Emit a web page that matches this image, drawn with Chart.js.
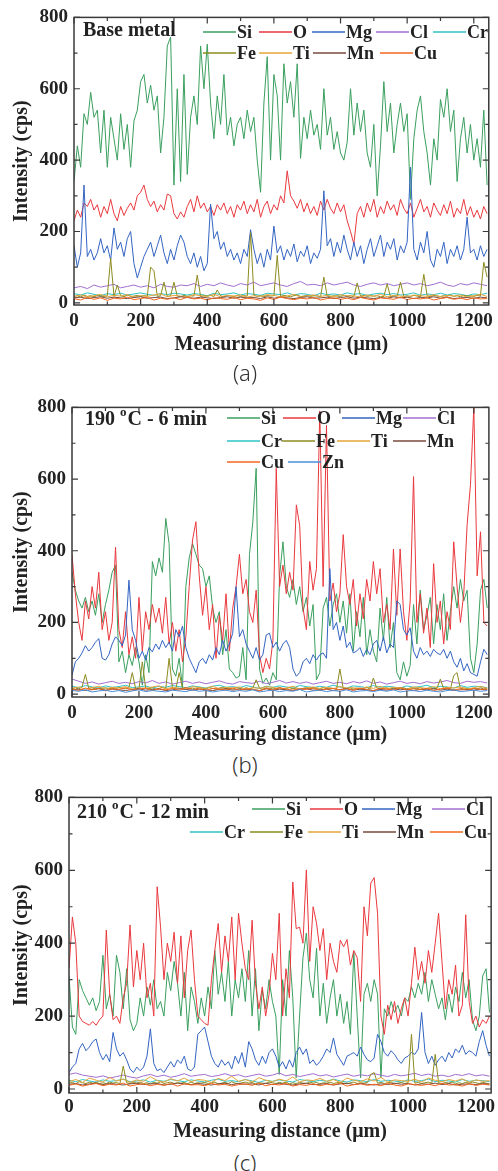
<!DOCTYPE html>
<html>
<head>
<meta charset="utf-8">
<script src="https://cdn.jsdelivr.net/npm/chart.js@4.4.0/dist/chart.umd.min.js"></script>
<style>
  body { margin: 0; background: #fff; }
  #wrap { position: relative; width: 498px; height: 1171px; overflow: hidden; }
  canvas { position: absolute; left: 0; }
  .cap { position: absolute; left: 0; width: 490px; text-align: center; font: 300 22px 'Noto Sans', 'DejaVu Sans', sans-serif; color: #333; line-height: 26px; }
</style>
</head>
<body>
<div id="wrap">
  <canvas id="ca" width="498" height="360" style="top:0"></canvas>
  <canvas id="cb" width="498" height="358" style="top:390px"></canvas>
  <canvas id="cc" width="498" height="365" style="top:780px"></canvas>
  <div class="cap" style="top:359px">(a)</div>
  <div class="cap" style="top:751px">(b)</div>
  <div class="cap" style="top:1149px">(c)</div>
</div>
<script>
// sampling step along the line scan (μm)
const stepMain = 10;
const stepMinor = 20;

// tick labels
const xTicks = [0, 200, 400, 600, 800, 1000, 1200];
const yTicks = [0, 200, 400, 600, 800];

// ---------- (a) Base metal ----------
const aSi = [340,440,380,530,500,590,520,540,420,540,
  380,520,460,400,530,430,500,380,510,540,
  620,640,560,610,540,580,420,520,720,745,
  330,600,340,640,360,520,580,500,720,600,
  725,560,460,580,500,640,470,520,440,500,
  520,460,540,480,520,400,310,560,690,400,
  640,580,400,670,560,620,520,670,405,520,
  460,540,470,500,430,600,470,520,430,480,
  420,400,450,600,470,560,480,540,420,380,
  500,300,440,620,480,560,420,500,560,480,
  530,290,460,540,580,480,420,330,460,400,
  570,520,600,480,540,340,460,520,420,500,
  400,460,380,540,330];
const aO = [230,260,240,280,270,290,260,275,240,270,
  250,290,250,230,270,245,265,280,260,300,
  310,330,290,270,285,255,275,260,305,300,
  250,235,255,240,270,290,255,300,265,280,
  255,270,245,275,260,280,250,270,240,275,
  260,285,250,275,255,290,240,270,285,250,
  275,260,300,280,370,300,285,265,290,255,
  280,250,270,245,285,260,290,265,250,280,
  255,275,230,200,165,250,270,240,280,255,
  290,240,270,250,285,260,275,245,290,265,
  250,280,240,265,290,255,270,240,280,260,
  245,275,250,285,240,265,250,290,245,270,
  240,260,235,270,250];
const aMg = [160,100,140,330,130,150,120,140,180,140,
  160,120,210,150,170,130,180,200,110,70,
  100,130,150,170,130,160,190,140,110,150,
  120,160,190,170,130,110,140,100,130,90,
  110,277,180,200,150,170,130,150,120,140,
  110,150,130,205,150,110,140,100,150,120,
  215,140,160,120,150,130,165,115,145,130,
  160,110,140,125,150,314,160,180,130,170,
  140,190,150,120,170,130,160,110,150,180,
  130,160,190,130,170,150,180,120,160,140,
  170,380,150,120,170,140,200,120,100,150,
  130,170,110,150,130,160,120,150,240,140,
  150,120,160,130,150];
const aFe = [18,20,16,22,18,20,17,21,19,18,
  20,125,18,50,20,17,22,18,19,21,
  18,20,19,100,90,18,20,58,18,20,
  58,19,17,21,18,20,19,78,18,20,
  19,21,18,36,20,17,21,19,18,20,
  18,20,19,197,22,18,20,17,21,19,
  20,133,18,21,19,17,20,22,18,19,
  21,18,20,19,17,72,19,18,20,19,
  18,21,19,20,17,56,19,21,18,20,
  19,20,17,18,53,17,20,19,58,18,
  20,18,21,19,17,80,20,17,21,19,
  18,20,19,22,18,20,17,21,19,20,
  18,21,19,114,72];
const aCl = [42,46,40,50,44,48,52,42,46,50, 44,48,42,52,46,44,50,48,54,46,
  52,48,56,50,46,54,50,58,48,52, 56,50,46,54,60,50,52,48,56,50,
  54,58,50,46,52,56,50,54,48,52, 56,50,54,48,52,58,50,46,54,50, 56,52,48];
const aCr = [26,22,28,24,20,26,23,27,22,25, 28,24,21,26,23,27,25,22,26,24,
  20,27,23,25,28,22,26,24,21,27, 25,23,28,22,26,24,20,27,23,25,
  22,28,24,26,21,25,27,23,26,22, 24,28,21,25,23,27,22,26,24,20, 25,23,27];
const aTi = [18,22,16,20,24,17,21,19,23,16, 20,18,22,25,17,21,19,16,23,20,
  18,24,17,21,19,22,16,20,18,23, 21,17,19,24,16,20,22,18,21,17,
  23,19,20,16,22,18,24,17,21,19, 16,22,20,18,23,17,21,19,22,16, 20,24,18];
const aMn = [14,16,12,15,17,13,16,14,12,15, 17,13,15,16,12,14,17,15,13,16,
  14,12,15,17,13,16,14,15,12,17, 13,16,14,12,15,17,13,14,16,12,
  15,17,13,16,14,12,15,13,17,14, 16,12,15,14,17,13,16,12,14,15, 13,16,14];
const aCu = [12,8,15,10,14,7,13,11,16,9, 12,15,8,13,10,14,9,16,11,13,
  8,14,12,10,15,9,13,11,7,14, 10,16,12,9,13,11,15,8,12,14,
  10,13,9,15,11,8,14,12,10,16, 9,13,11,14,8,12,15,10,13,9, 14,11,12];

// ---------- (b) 190 °C - 6 min ----------
const bSi = [340,290,260,240,270,230,260,220,280,200,
  250,290,340,360,90,120,60,110,80,130,
  90,25,110,60,370,330,380,340,490,420,
  70,50,100,20,300,380,420,390,360,350,
  300,330,240,200,230,110,180,70,60,45,
  50,130,40,390,480,630,70,30,45,25,
  60,40,330,425,300,270,320,250,300,230,
  270,190,250,40,60,240,270,190,250,280,
  200,260,170,280,120,230,160,270,110,180,
  120,90,240,150,270,130,200,60,40,90,
  50,80,250,140,290,180,220,270,140,250,
  180,280,150,230,300,240,320,260,290,100,
  60,140,290,320,240];
const bO = [390,280,200,150,260,210,300,240,340,180,
  230,150,200,410,180,130,230,110,160,100,
  270,120,230,180,250,200,240,170,270,140,
  200,120,180,90,160,300,430,481,330,220,
  300,180,250,100,220,150,280,120,240,300,
  390,280,320,230,200,290,110,60,100,70,
  150,630,300,360,280,340,290,528,470,240,
  180,370,290,350,790,300,750,260,310,230,
  280,445,300,250,320,190,280,210,320,260,
  370,280,350,200,250,180,405,220,405,230,
  150,260,607,200,280,170,240,130,364,200,
  260,140,230,180,425,300,200,280,473,585,
  800,330,453,200,190];
const bMg = [53,90,100,115,135,120,130,145,155,100,
  95,110,140,160,150,135,165,318,180,150,
  100,120,95,130,118,140,125,150,130,145,
  120,180,160,190,130,100,80,60,90,100,
  85,110,95,130,110,150,120,140,170,300,
  160,180,140,120,100,130,95,110,165,170,
  130,145,120,140,150,130,70,50,60,90,
  100,85,110,95,110,115,100,350,180,200,
  150,190,130,145,115,120,130,105,125,110,
  140,150,120,160,115,140,130,260,250,180,
  165,185,120,100,130,110,120,105,125,115,
  110,125,100,120,90,75,100,65,85,60,
  55,50,90,125,110];
const bFe = [15,18,14,20,55,16,18,14,17,15,
  18,15,17,14,19,16,15,18,60,16,
  14,90,17,15,18,14,16,19,15,100,
  17,14,60,16,18,15,17,14,19,16,
  15,18,16,14,17,19,15,16,14,18,
  16,14,18,15,17,40,16,14,18,15,
  17,15,19,14,16,18,15,17,14,16,
  18,15,17,16,14,19,15,17,16,14,
  70,16,15,18,14,17,16,15,19,14,
  45,17,15,16,18,14,17,15,16,18,
  14,17,16,15,18,14,16,17,15,16,
  42,15,17,14,52,60,15,17,16,14,
  16,15,18,14,17];
const bCl = [42,36,30,34,28,32,36,30,33,29, 35,31,38,30,34,28,32,36,30,34,
  29,33,37,31,28,35,32,30,36,29, 33,38,31,35,30,34,28,32,36,30,
  33,29,35,31,37,30,34,28,32,36, 30,33,29,35,31,34,38,32,30,36, 33,35,31];
const bCr = [22,18,24,20,17,23,19,21,25,18, 20,23,17,22,19,24,21,18,23,20,
  17,22,25,19,21,18,24,20,16,22, 19,23,20,17,24,21,18,22,19,25,
  20,17,23,21,18,24,19,22,20,17, 23,19,21,25,18,22,20,17,24,19, 22,21,18];
const bTi = [16,20,14,18,22,15,19,17,21,14, 18,16,20,23,15,19,17,14,21,18,
  16,22,15,19,17,20,14,18,16,21, 19,15,17,22,14,18,20,16,19,15,
  21,17,18,14,20,16,22,15,19,17, 14,20,18,16,21,15,19,17,20,14, 18,22,16];
const bMn = [12,14,10,13,15,11,14,12,10,13, 15,11,13,14,10,12,15,13,11,14,
  12,10,13,15,11,14,12,13,10,15, 11,14,12,10,13,15,11,12,14,10,
  13,15,11,14,12,10,13,11,15,12, 14,10,13,12,15,11,14,10,12,13, 11,14,12];
const bCu = [14,10,17,12,16,9,15,13,18,11, 14,17,10,15,12,16,11,18,13,15,
  10,16,14,12,17,11,15,13,9,16, 12,18,14,11,15,13,17,10,14,16,
  12,15,11,17,13,10,16,14,12,18, 11,15,13,16,10,14,17,12,15,11, 16,13,14];
const bZn = [10,8,12,6,9,11,7,10,5,9, 12,7,10,8,6,11,9,7,12,8,
  10,6,9,11,7,10,8,12,6,9, 11,7,10,8,13,6,9,11,7,10,
  8,12,6,9,10,7,11,8,12,6, 9,10,7,11,8,6,10,12,7,9, 11,8,10];

// ---------- (c) 210 °C - 12 min ----------
const cSi = [310,170,150,300,270,250,230,250,215,240,
  367,220,260,200,367,320,220,330,190,160,
  180,250,200,280,230,300,220,240,200,320,
  270,350,290,200,320,160,280,240,180,250,
  200,280,220,380,260,320,240,350,200,300,
  250,330,240,380,200,330,160,270,220,300,
  240,200,40,300,200,380,250,31,200,360,
  428,300,250,386,200,290,180,250,300,200,
  260,180,240,150,375,200,31,260,290,240,
  300,260,30,220,200,240,210,230,200,250,
  240,280,250,290,260,320,240,300,260,220,
  250,190,260,210,280,240,320,250,300,190,
  160,200,310,330,210];
const cO = [330,472,400,200,185,180,175,185,175,190,
  200,436,260,190,200,180,250,290,450,280,
  380,300,400,250,290,200,555,445,300,400,
  350,430,290,420,250,380,436,300,200,190,
  180,175,300,380,454,320,420,350,472,300,
  482,400,330,300,463,290,220,280,200,260,
  372,300,482,200,330,250,568,440,444,400,
  601,350,500,455,380,440,300,400,350,320,
  408,390,410,340,380,360,240,500,420,565,
  580,482,200,150,230,190,240,180,220,250,
  200,290,389,300,350,290,380,320,400,482,
  350,220,300,260,340,200,230,478,240,180,
  200,170,190,180,200];
const cMg = [45,60,70,110,125,105,115,130,137,100,
  80,95,75,155,110,90,100,80,55,45,
  60,50,60,90,165,70,50,55,45,60,
  75,60,80,70,90,55,50,60,150,160,
  170,130,90,70,60,80,65,75,55,90,
  70,100,60,130,110,80,65,90,70,100,
  110,90,60,75,55,80,60,100,115,95,
  110,70,80,65,75,90,110,100,140,95,
  80,65,90,95,100,90,115,95,80,75,
  85,150,130,100,90,105,95,80,70,85,
  90,100,95,110,210,100,70,90,65,80,
  90,75,100,85,110,100,120,95,105,100,
  90,130,160,120,90];
const cFe = [16,18,14,20,17,15,19,16,18,15,
  17,15,19,16,18,14,63,17,15,18,
  16,19,15,17,14,18,16,20,15,17,
  19,15,17,16,18,14,19,15,17,16,
  18,15,17,19,14,16,18,15,20,16,
  15,17,19,16,18,14,17,16,15,19,
  17,15,18,16,19,14,17,15,18,16,
  15,19,16,18,14,17,16,19,15,17,
  18,16,14,17,19,15,17,16,18,40,
  45,16,18,15,17,19,14,16,18,15,
  17,150,16,18,15,17,19,16,95,17,
  15,18,16,19,14,17,15,18,16,19,
  17,15,18,16,14];
const cCl = [40,44,38,35,32,36,30,34,38,33, 30,36,40,34,38,32,36,42,35,38,
  40,34,37,42,36,39,33,37,41,35, 38,44,36,40,34,38,42,36,39,33,
  37,41,35,39,36,42,38,34,40,36, 39,43,37,41,35,38,34,40,37,42, 36,39,35];
const cCr = [24,20,26,22,19,25,21,23,27,20, 22,25,19,24,21,26,23,20,25,22,
  19,24,27,21,23,20,26,22,18,24, 21,25,22,19,26,23,20,24,21,27,
  22,19,25,23,20,26,21,24,22,19, 25,21,23,27,20,24,22,19,26,21, 24,23,20];
const cTi = [20,26,18,30,24,19,32,22,27,18, 25,21,34,23,19,28,22,30,20,26,
  24,18,29,23,35,21,26,19,31,24, 20,27,22,33,19,25,23,29,21,26,
  18,30,24,20,28,22,32,19,25,23, 21,27,19,30,24,20,26,22,28,18, 25,21,23];
const cMn = [13,15,11,14,16,12,15,13,11,14, 16,12,14,15,11,13,16,14,12,15,
  13,11,14,16,12,15,13,14,11,16, 12,15,13,11,14,16,12,13,15,11,
  14,16,12,15,13,11,14,12,16,13, 15,11,14,13,16,12,15,11,13,14, 12,15,13];
const cCu = [10,14,8,12,15,9,13,11,16,8, 12,14,9,13,10,15,8,14,11,12,
  9,15,11,13,8,12,14,10,16,9, 13,11,15,8,12,10,14,9,13,11,
  16,8,12,14,10,13,9,15,11,8, 14,12,10,13,9,15,11,12,8,14, 10,13,11];

const colors = {
  Si: '#3a9f5e', O: '#e9393e', Mg: '#3364c2', Cl: '#a26fcf', Cr: '#2fc3c6',
  Fe: '#8d8b1f', Ti: '#e6a53a', Mn: '#7a4b3d', Cu: '#f4661f', Zn: '#4b8fda'
};

const serif = "'Liberation Serif', 'Times New Roman', serif";
const ink = '#222';

function line(name, vals, step, i) {
  return {
    label: name,
    data: vals.map((v, k) => ({ x: k * step, y: v })),
    borderColor: colors[name],
    borderWidth: 1,
    pointRadius: 0,
    tension: 0,
    order: 20 - i
  };
}

// draws the Origin-style frame, inward ticks, the in-plot title and legend
const frame = {
  id: 'frame',
  afterDraw(chart, args, o) {
    const { ctx, chartArea: a, scales: { x, y } } = chart;
    ctx.save();
    ctx.strokeStyle = '#3a3a3a';
    ctx.lineWidth = 1.5;
    ctx.strokeRect(a.left, a.top, a.right - a.left, a.bottom - a.top);
    ctx.lineWidth = 1.2;
    ctx.beginPath();
    for (let v = 0; v <= 1200; v += 100) {
      const px = x.getPixelForValue(v), len = v % 200 ? 3.5 : 6;
      ctx.moveTo(px, a.bottom); ctx.lineTo(px, a.bottom - len);
      ctx.moveTo(px, a.top); ctx.lineTo(px, a.top + len);
    }
    for (let v = 0; v <= 800; v += 100) {
      const py = y.getPixelForValue(v), len = v % 200 ? 3.5 : 6;
      ctx.moveTo(a.left, py); ctx.lineTo(a.left + len, py);
      ctx.moveTo(a.right, py); ctx.lineTo(a.right - len, py);
    }
    ctx.stroke();

    // panel title, with optional superscript part
    ctx.fillStyle = ink;
    ctx.textBaseline = 'middle';
    let tx = o.title.x;
    o.title.parts.forEach((p, k) => {
      const sup = o.title.sup === k;
      ctx.font = 'bold ' + (sup ? 13 : 20) + 'px ' + serif;
      ctx.fillText(p, tx, o.title.y - (sup ? 7 : 0));
      tx += ctx.measureText(p).width + (sup ? 1 : 0);
    });

    // legend
    ctx.font = 'bold 18px ' + serif;
    o.legend.forEach(row => {
      row.items.forEach(([name, lx]) => {
        ctx.strokeStyle = colors[name];
        ctx.lineWidth = 1.5;
        ctx.beginPath();
        ctx.moveTo(lx, row.y); ctx.lineTo(lx + 33, row.y);
        ctx.stroke();
        ctx.fillText(name, lx + 34, row.y + 1);
      });
    });
    ctx.restore();
  }
};

function panel(id, P, datasets) {
  new Chart(document.getElementById(id), {
    type: 'line',
    data: { datasets },
    plugins: [frame],
    options: {
      responsive: false,
      animation: false,
      events: [],
      layout: { padding: { top: P.top, right: 498 - P.right, left: 0, bottom: 0 } },
      plugins: {
        legend: { display: false },
        tooltip: { enabled: false },
        frame: { title: P.title, legend: P.legend }
      },
      scales: {
        x: {
          type: 'linear', min: 0, max: 1245,
          grid: { display: false, drawTicks: false },
          border: { display: false },
          afterBuildTicks: s => { s.ticks = xTicks.map(v => ({ value: v })); },
          ticks: {
            autoSkip: false, maxRotation: 0, callback: v => String(v),
            padding: P.tickPad, color: ink, font: { family: serif, size: 19, weight: 'bold' }
          },
          title: {
            display: true, text: 'Measuring distance (μm)', color: ink,
            font: { family: serif, size: 20, weight: 'bold' },
            padding: { top: 0, bottom: P.xtPad }
          },
          afterFit: s => { s.height = P.xh; }
        },
        y: {
          min: P.ymin, max: 800,
          grid: { display: false, drawTicks: false },
          border: { display: false },
          afterBuildTicks: s => { s.ticks = yTicks.map(v => ({ value: v })); },
          ticks: {
            callback: v => String(v), padding: 6, color: ink,
            font: { family: serif, size: 19, weight: 'bold' }
          },
          title: {
            display: true, text: 'Intensity (cps)', color: ink,
            font: { family: serif, size: 20, weight: 'bold' },
            padding: { top: 10, bottom: 0 }
          },
          afterFit: s => { s.width = P.left; }
        }
      }
    }
  });
}

const namesA = ['Si', 'O', 'Mg', 'Cl', 'Cr', 'Fe', 'Ti', 'Mn', 'Cu'];
const seriesA = [aSi, aO, aMg, aCl, aCr, aFe, aTi, aMn, aCu];
const namesB = ['Si', 'O', 'Mg', 'Cl', 'Cr', 'Fe', 'Ti', 'Mn', 'Cu', 'Zn'];
const seriesB = [bSi, bO, bMg, bCl, bCr, bFe, bTi, bMn, bCu, bZn];
const namesC = ['Si', 'O', 'Mg', 'Cl', 'Cr', 'Fe', 'Ti', 'Mn', 'Cu'];
const seriesC = [cSi, cO, cMg, cCl, cCr, cFe, cTi, cMn, cCu];
const mainStep = n => (['Si', 'O', 'Mg', 'Fe'].includes(n) ? stepMain : stepMinor);

panel('ca', {
  top: 15, left: 74, right: 492, xh: 55, ymin: -6, tickPad: 5, xtPad: 3,
  title: { x: 83, y: 31, parts: ['Base metal'] },
  legend: [
    { y: 32, items: [['Si', 203], ['O', 259], ['Mg', 312], ['Cl', 376], ['Cr', 433]] },
    { y: 53, items: [['Fe', 203], ['Ti', 259], ['Mn', 313], ['Cu', 380]] }
  ]
}, namesA.map((n, i) => line(n, seriesA[i], mainStep(n), i)));

panel('cb', {
  top: 15, left: 72, right: 493, xh: 51, ymin: -8, tickPad: 5, xtPad: 1,
  title: { x: 85, y: 30, parts: ['190 ', 'o', 'C - 6 min'], sup: 1 },
  legend: [
    { y: 28, items: [['Si', 227], ['O', 283], ['Mg', 342], ['Cl', 403]] },
    { y: 51, items: [['Cr', 227], ['Fe', 282], ['Ti', 337], ['Mn', 393]] },
    { y: 72, items: [['Cu', 227], ['Zn', 288]] }
  ]
}, namesB.map((n, i) => line(n, seriesB[i], mainStep(n), i)));

panel('cc', {
  top: 17, left: 69, right: 495, xh: 52, ymin: -11, tickPad: 3, xtPad: 1,
  title: { x: 77, y: 33, parts: ['210 ', 'o', 'C - 12 min'], sup: 1 },
  legend: [
    { y: 29, items: [['Si', 252], ['O', 310], ['Mg', 362], ['Cl', 432]] },
    { y: 52, items: [['Cr', 190], ['Fe', 250], ['Ti', 308], ['Mn', 363], ['Cu', 430]] }
  ]
}, namesC.map((n, i) => line(n, seriesC[i], mainStep(n), i)));
</script>
</body>
</html>
